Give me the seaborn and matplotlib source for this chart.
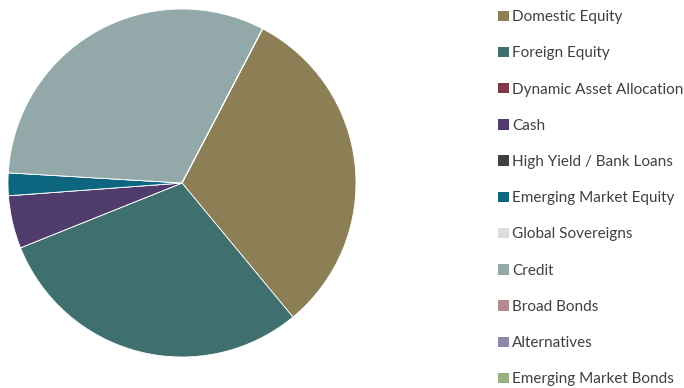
import matplotlib
matplotlib.use("Agg")
import matplotlib.pyplot as plt
import seaborn as sns
from matplotlib.patches import Patch

categories = ["Domestic Equity", "Foreign Equity", "Dynamic Asset Allocation", "Cash",
              "High Yield / Bank Loans", "Emerging Market Equity", "Global Sovereigns",
              "Credit", "Broad Bonds", "Alternatives", "Emerging Market Bonds"]
values = [31.3, 29.9, 0, 4.9, 0, 2.1, 0, 31.7, 0, 0, 0]
colors = ["#8C7F55", "#3F6F6F", "#7F3A4A", "#4F3C6C", "#404040", "#0E6580",
          "#DDDDDD", "#93A8A8", "#B58A90", "#8E88A6", "#96B084"]

sns.set_theme(style="white")
plt.rcParams['font.family'] = ['Lato', 'DejaVu Sans']

fig = plt.figure(figsize=(6.84, 3.88), dpi=100)
ax = fig.add_axes([8/684, (388-357)/388, 348/684, 348/388])
ax.pie(values, colors=colors, startangle=62.4, counterclock=False,
       wedgeprops=dict(edgecolor="white", linewidth=0.6), radius=1)
ax.set_xlim(-1, 1)
ax.set_ylim(-1, 1)
ax.set_aspect("equal")
ax.axis("off")

handles = [Patch(facecolor=c, edgecolor="none") for c in colors]
leg = fig.legend(handles, categories, loc="upper left",
                 bbox_to_anchor=(492/684, 1 - 4/388), frameon=False,
                 fontsize=11, handlelength=0.68, handleheight=0.68,
                 handletextpad=0.25, labelspacing=1.455, borderaxespad=0,
                 labelcolor="#404040")

fig.savefig("out.png", dpi=100)
